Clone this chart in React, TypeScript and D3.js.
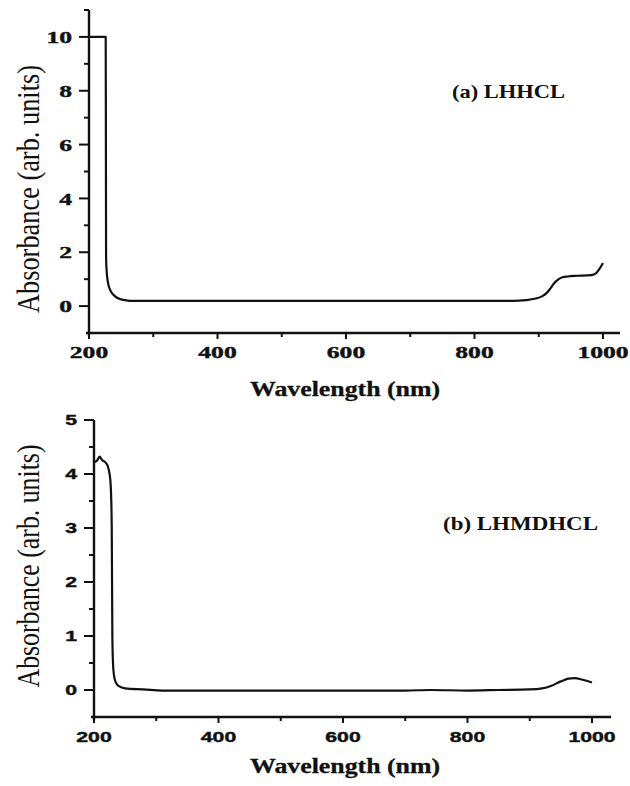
import React from "react";
import * as d3 from "d3";

// Panel (a) LHHCL
const wavelengthsA = [200, 226, 226.3, 226.6, 227.5, 229, 231, 234, 238, 243, 250, 258, 268, 300, 500, 700, 860, 880, 895, 905, 912, 918, 924, 930, 937, 945, 955, 965, 975, 985, 990, 995, 1000];
const absorbanceA = [10, 10, 6.2, 1.8, 1.3, 0.95, 0.72, 0.55, 0.42, 0.32, 0.25, 0.21, 0.19, 0.19, 0.19, 0.19, 0.19, 0.22, 0.28, 0.36, 0.48, 0.65, 0.85, 0.98, 1.07, 1.1, 1.12, 1.13, 1.14, 1.17, 1.24, 1.4, 1.6];

// Panel (b) LHMDHCL
const wavelengthsB = [200, 205, 209, 213, 218, 222, 225, 226.5, 227.5, 228.5, 229.5, 230.5, 232, 235, 240, 250, 280, 310, 500, 700, 740, 800, 850, 900, 920, 935, 950, 962, 972, 985, 1000];
const absorbanceB = [4.22, 4.25, 4.32, 4.26, 4.22, 4.15, 4.0, 3.85, 3.6, 3.0, 1.0, 0.5, 0.28, 0.14, 0.07, 0.03, 0.01, -0.01, -0.01, -0.01, 0.0, -0.01, 0.0, 0.01, 0.03, 0.08, 0.16, 0.21, 0.22, 0.19, 0.14];

const xTicks = [200, 400, 600, 800, 1000];
const xMinor = [300, 500, 700, 900];
const yTicksA = [0, 2, 4, 6, 8, 10];
const yMinorA = [1, 3, 5, 7, 9, 11];
const yTicksB = [0, 1, 2, 3, 4, 5];
const yMinorB = [0.5, 1.5, 2.5, 3.5, 4.5];

const labelA = "(a) LHHCL";
const labelB = "(b) LHMDHCL";
const xTitle = "Wavelength (nm)";
const yTitle = "Absorbance (arb. units)";

type PanelProps = {
  xs: number[];
  ys: number[];
  xScale: d3.ScaleLinear<number, number>;
  yScale: d3.ScaleLinear<number, number>;
  xAxisEnd: number;
  yTicks: number[];
  yMinor: number[];
  tickFont: string;
  tickCharW: number;
  tickSize: number;
  label: string;
  labelX: number;
  labelY: number;
  labelW: number;
  xTitleY: number;
  yTitleCenter: number;
  yTitleLen: number;
};

function Panel(p: PanelProps) {
  const { xScale, yScale } = p;
  const data = p.xs.map((x, i) => [x, p.ys[i]] as [number, number]);
  const line = d3
    .line<[number, number]>()
    .x((d) => xScale(d[0]))
    .y((d) => yScale(d[1]))
    .curve(d3.curveMonotoneX);
  const [yBottom, yTop] = yScale.range();
  const x0 = xScale(xTicks[0]);
  const stroke = "#111";
  return (
    <g>
      {/* axes */}
      <line x1={x0} x2={x0} y1={yTop} y2={yBottom + 3} stroke={stroke} strokeWidth={2.4} />
      <line x1={x0 - 3} x2={p.xAxisEnd} y1={yBottom} y2={yBottom} stroke={stroke} strokeWidth={2.4} />
      {p.yTicks.map((t) => (
        <g key={"y" + t}>
          <line x1={x0 - 10} x2={x0} y1={yScale(t)} y2={yScale(t)} stroke={stroke} strokeWidth={2} />
          <text
            x={x0 - 17}
            y={yScale(t)}
            dy="0.36em"
            textAnchor="end"
            fontFamily={p.tickFont}
            fontWeight="bold"
            fontSize={p.tickSize}
            textLength={String(t).length * p.tickCharW}
            lengthAdjust="spacingAndGlyphs"
            fill={stroke}
            stroke={stroke}
            strokeWidth={0.4}
          >
            {t}
          </text>
        </g>
      ))}
      {p.yMinor.map((t) => (
        <line key={"ym" + t} x1={x0 - 5} x2={x0} y1={yScale(t)} y2={yScale(t)} stroke={stroke} strokeWidth={2} />
      ))}
      {xTicks.map((t) => (
        <g key={"x" + t}>
          <line x1={xScale(t)} x2={xScale(t)} y1={yBottom} y2={yBottom + 6} stroke={stroke} strokeWidth={2} />
          <text
            x={xScale(t)}
            y={yBottom + 25}
            textAnchor="middle"
            fontFamily={p.tickFont}
            fontWeight="bold"
            fontSize={p.tickSize}
            textLength={String(t).length * p.tickCharW}
            lengthAdjust="spacingAndGlyphs"
            fill={stroke}
            stroke={stroke}
            strokeWidth={0.4}
          >
            {t}
          </text>
        </g>
      ))}
      {xMinor.map((t) => (
        <line key={"xm" + t} x1={xScale(t)} x2={xScale(t)} y1={yBottom} y2={yBottom + 4} stroke={stroke} strokeWidth={2} />
      ))}
      {/* data */}
      <path d={line(data) || ""} fill="none" stroke={stroke} strokeWidth={2.2} strokeLinejoin="round" />
      {/* sample label */}
      <text
        x={p.labelX}
        y={p.labelY}
        fontFamily="'Liberation Serif', 'Times New Roman', serif"
        fontWeight="bold"
        fontSize={19}
        textLength={p.labelW}
        lengthAdjust="spacingAndGlyphs"
        fill={stroke}
      >
        {p.label}
      </text>
      {/* axis titles */}
      <text
        x={345}
        y={p.xTitleY}
        textAnchor="middle"
        fontFamily="'Liberation Serif', 'Times New Roman', serif"
        fontWeight="bold"
        fontSize={20}
        textLength={190}
        lengthAdjust="spacingAndGlyphs"
        fill={stroke}
        stroke={stroke}
        strokeWidth={0.3}
      >
        {xTitle}
      </text>
      <text
        transform={`translate(39,${p.yTitleCenter}) rotate(-90)`}
        textAnchor="middle"
        fontFamily="'Liberation Serif', 'Times New Roman', serif"
        fontSize={32}
        textLength={p.yTitleLen}
        lengthAdjust="spacingAndGlyphs"
        fill={stroke}
      >
        {yTitle}
      </text>
    </g>
  );
}

export default function App() {
  const xA = d3.scaleLinear().domain([200, 1000]).range([89, 603]);
  const yA = d3.scaleLinear().domain([-1, 11]).range([333, 10]);
  const xB = d3.scaleLinear().domain([200, 1000]).range([94, 592]);
  const yB = d3.scaleLinear().domain([-0.5, 5]).range([717, 420]);
  return (
    <svg
      width={630}
      height={786}
      style={{ position: "absolute", left: 0, top: 0, background: "#fff" }}
    >
      <rect width={630} height={786} fill="#fff" />
      <Panel
        xs={wavelengthsA}
        ys={absorbanceA}
        xScale={xA}
        yScale={yA}
        xAxisEnd={620}
        yTicks={yTicksA}
        yMinor={yMinorA}
        tickFont="'Liberation Serif', 'Times New Roman', serif"
        tickCharW={12.8}
        tickSize={17}
        label={labelA}
        labelX={452}
        labelY={98}
        labelW={113}
        xTitleY={396}
        yTitleCenter={189}
        yTitleLen={248}
      />
      <Panel
        xs={wavelengthsB}
        ys={absorbanceB}
        xScale={xB}
        yScale={yB}
        xAxisEnd={611}
        yTicks={yTicksB}
        yMinor={yMinorB}
        tickFont="'Liberation Sans', Arial, sans-serif"
        tickCharW={11.8}
        tickSize={14}
        label={labelB}
        labelX={443}
        labelY={530}
        labelW={155}
        xTitleY={773}
        yTitleCenter={566}
        yTitleLen={243}
      />
    </svg>
  );
}
